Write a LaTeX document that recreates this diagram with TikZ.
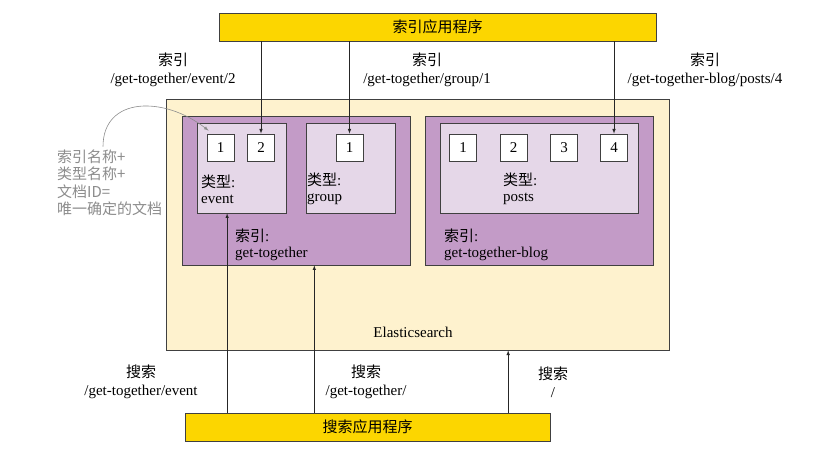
\documentclass[tikz,border=0pt]{standalone}
\usepackage{fontspec}
\setmainfont{Liberation Serif}
\newfontfamily\cjk{Noto Sans CJK SC}
\usepackage{tikz}
\usetikzlibrary{arrows}
\usetikzlibrary{shapes,positioning,calc}
\definecolor{appyellow}{RGB}{252,214,0}
\definecolor{escream}{RGB}{254,242,206}
\definecolor{idxpurple}{RGB}{195,155,199}
\definecolor{typelilac}{RGB}{229,215,232}
\definecolor{edge}{RGB}{64,64,64}
\definecolor{notegray}{RGB}{140,140,140}
\newcommand{\zh}[1]{{\cjk #1}}

\begin{document}
\begin{tikzpicture}[x=1pt,y=-1pt,>=latex,
		font=\fontsize{15}{18}\selectfont,
		every node/.style={inner sep=0pt},
		app/.style={draw=edge,fill=appyellow,line width=0.8pt,minimum height=28pt},
		box/.style={draw=edge,line width=0.8pt},
		doc/.style={draw=edge,fill=white,line width=0.8pt,minimum size=27pt},
		lbl/.style={align=center},
		link/.style={->,line width=0.6pt,draw=black!85}]
			\useasboundingbox (0,0) rectangle (825,457);
			\node[app,minimum width=437pt] (idxapp) at (437.5,27) {\zh{索引应用程序}};
			\node[app,minimum width=365pt] (srchapp) at (367.5,427) {\zh{搜索应用程序}};
			\node[box,fill=escream,minimum width=503pt,minimum height=251pt] (es) at (417.5,224.5) {};
			\node[box,fill=idxpurple,minimum width=228pt,minimum height=149pt] (gt) at (296,190.5) {};
			\node[box,fill=idxpurple,minimum width=228pt,minimum height=149pt] (gtb) at (539,190.5) {};
			\node[box,fill=typelilac,minimum width=89pt,minimum height=90pt] (tev) at (241.5,168) {};
			\node[box,fill=typelilac,minimum width=89pt,minimum height=90pt] (tgr) at (350.5,168) {};
			\node[box,fill=typelilac,minimum width=198pt,minimum height=90pt] (tpo) at (539,168) {};
			\node[doc] (e1) at (220.5,147.5) {1};
			\node[doc] (e2) at (261,147.5) {2};
			\node[doc] (g1) at (349.5,147.5) {1};
			\foreach \n/\x in {1/463,2/513.5,3/564,4/614}
				\node[doc] (p\n) at (\x,147.5) {\n};
			\node[anchor=west,align=left] (lev) at (201,189) {\zh{类型}:\\[-2pt]event};
			\node[anchor=west,align=left] (lgr) at (307,189) {\zh{类型}:\\[-2pt]group};
			\node[anchor=west,align=left] (lpo) at (503,189) {\zh{类型}:\\[-2pt]posts};
			\node[anchor=west,align=left] (lgt) at (235,245) {\zh{索引}:\\[-2pt]get-together};
			\node[anchor=west,align=left] (lgtb) at (444,245) {\zh{索引}:\\[-2pt]get-together-blog};
			\node (les) at (413,332) {Elasticsearch};
			\node[lbl] (iev) at (173,70) {\zh{索引}\\/get-together/event/2};
			\node[lbl] (igr) at (427,70) {\zh{索引}\\/get-together/group/1};
			\node[lbl] (ipo) at (705,70) {\zh{索引}\\/get-together-blog/posts/4};
			\node[lbl] (sev) at (141,382) {\zh{搜索}\\/get-together/event};
			\node[lbl] (sgt) at (366,382) {\zh{搜索}\\/get-together/};
			\node[lbl] (sall) at (553,382) {\zh{搜索}\\/};
			\node[anchor=west,align=left,text=notegray,font=\cjk\fontsize{15}{17.5}\selectfont] (note) at (57,183) {索引名称+\\类型名称+\\文档ID=\\唯一确定的文档};
			\draw[->,notegray,line width=0.6pt] ($(note.north west)+(46,-3)$) .. controls +(0,-50) and +(-45,-35) .. ($(e1.north west)+(2,-3)$);
			\draw[link] (idxapp.south -| e2.north) -- (e2.north);
			\draw[link] (idxapp.south -| g1.north) -- (g1.north);
			\draw[link] (idxapp.south -| p4.north) -- (p4.north);
			\coordinate (s1) at ($(tev.south west)!0.34!(tev.south east)$);
			\coordinate (s2) at ($(gt.south west)!0.58!(gt.south east)$);
			\coordinate (s3) at ($(es.south west)!0.68!(es.south east)$);
			\draw[link] (srchapp.north -| s1) -- (s1);
			\draw[link] (srchapp.north -| s2) -- (s2);
			\draw[link] (srchapp.north -| s3) -- (s3);
		\end{tikzpicture}
\end{document}
